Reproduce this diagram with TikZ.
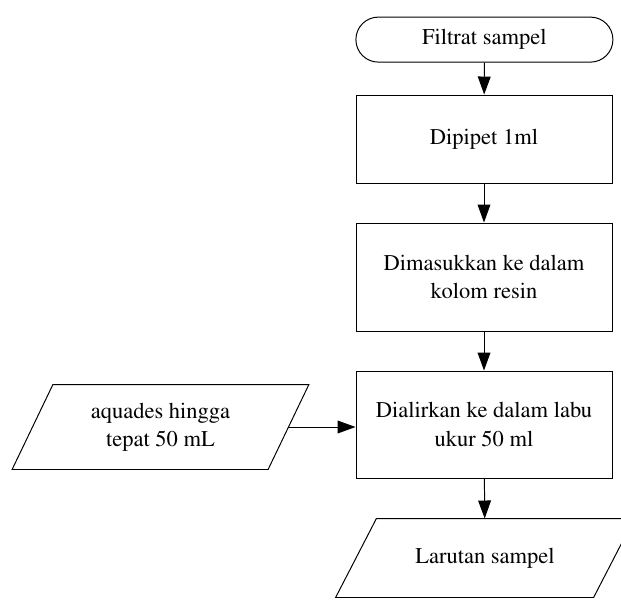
\documentclass[tikz,border=0pt]{standalone}
\usepackage[T1]{fontenc}
\usepackage{mathptmx}
\usetikzlibrary{arrows.meta,calc}

\begin{document}
\begin{tikzpicture}[>={Triangle[length=4.5mm,width=3.2mm]},
    line width=0.7pt,
    every node/.style={font=\fontsize{16}{20}\selectfont, align=center},
    proses/.style={draw, rectangle, minimum width=6.4cm},
    mulai/.style={draw, rectangle, rounded corners=0.56cm, minimum width=6.425cm, minimum height=1.125cm},
    datanode/.style={rectangle, inner sep=0pt}]

% Parameters
\def\sl{0.51}   % half slant of the parallelograms

% Canvas
\clip (0,0) rectangle (15.525,-15.025);

% Main column
\node[mulai] (start) at (12.11,-0.99) {Filtrat sampel};
\node[proses, minimum height=2.2cm] (pipet) at (12.1,-3.475) {Dipipet 1ml};
\node[proses, minimum height=2.7cm] (kolom) at (12.1,-6.925) {Dimasukkan ke dalam\\kolom resin};
\node[proses, minimum height=2.675cm] (labu) at (12.1,-10.6125) {Dialirkan ke dalam labu\\ukur 50 ml};

% Input (left)
\node[datanode, minimum width=6.375cm, minimum height=2.1cm] (aquades) at (4.0125,-10.675) {aquades hingga\\tepat 50 mL};
\draw ($(aquades.south west)+(-\sl,0)$) -- ($(aquades.south east)+(-\sl,0)$)
   -- ($(aquades.north east)+(\sl,0)$) -- ($(aquades.north west)+(\sl,0)$) -- cycle;

% Output
\node[datanode, minimum width=6.425cm, minimum height=1.95cm] (hasil) at (12.125,-13.95) {Larutan sampel};
\draw ($(hasil.south west)+(-\sl,0)$) -- ($(hasil.south east)+(-\sl,0)$)
   -- ($(hasil.north east)+(\sl,0)$) -- ($(hasil.north west)+(\sl,0)$) -- cycle;

% Arrows
\draw[->] (start) -- (pipet);
\draw[->] (pipet) -- (kolom);
\draw[->] (kolom) -- (labu);
\draw[->] (labu) -- (hasil);
\draw[->] (aquades.east) -- (aquades.east -| labu.west);

\end{tikzpicture}
\end{document}
